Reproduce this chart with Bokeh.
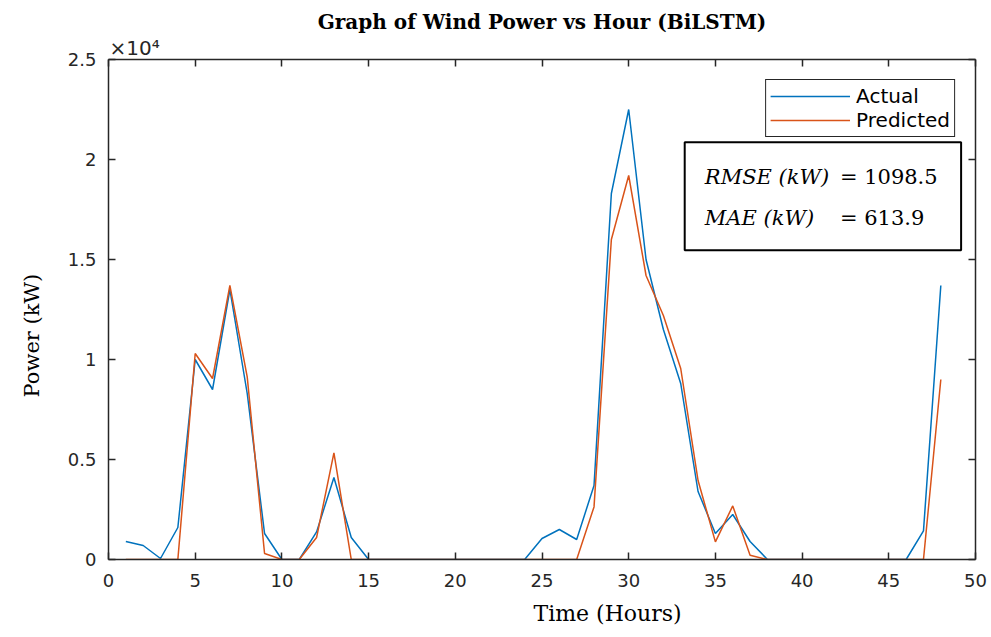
from bokeh.plotting import figure
from bokeh.models import (LinearAxis, FixedTicker, Label, BoxAnnotation, Legend,
                          LegendItem, Range1d, ColumnDataSource, Title)
from bokeh.embed import file_html
from bokeh.resources import INLINE

# ---------------- data ----------------
hours = list(range(1, 49))
actual = [900, 700, 50, 1600, 10000, 8500, 13500, 8300, 1300, 0,
          0, 1380, 4100, 1100, 0, 0, 0, 0, 0, 0,
          0, 0, 0, 0, 1050, 1500, 1000, 3700, 18300, 22500,
          15000, 11500, 8800, 3400, 1300, 2250, 900, 0, 0, 0,
          0, 0, 0, 0, 0, 0, 1430, 13700]
predicted = [0, 0, 0, 0, 10300, 9050, 13700, 9130, 300, 0,
             0, 1100, 5330, 0, 0, 0, 0, 0, 0, 0,
             0, 0, 0, 0, 0, 0, 0, 2630, 16000, 19200,
             14200, 12200, 9550, 3950, 880, 2680, 215, 0, 0, 0,
             0, 0, 0, 0, 0, 0, 0, 9000]

x_ticks = [0, 5, 10, 15, 20, 25, 30, 35, 40, 45, 50]
y_ticks = [0, 5000, 10000, 15000, 20000, 25000]
y_tick_labels = ["0", "0.5", "1", "1.5", "2", "2.5"]

title_text = "Graph of Wind Power vs Hour (BiLSTM)"
x_label = "Time (Hours)"
y_label = "Power (kW)"
exponent_text = "\u00d710\u2074"
series_names = ["Actual", "Predicted"]
rmse_text = ["RMSE (kW)", "= 1098.5"]
mae_text = ["MAE (kW)", "= 613.9"]

AX = "#262626"
BLUE = "#0072BD"
ORANGE = "#D95319"

src = ColumnDataSource(dict(h=hours, a=actual, p=predicted))

p = figure(frame_width=867, frame_height=500,
           min_border_left=107, min_border_right=17,
           min_border_top=59, min_border_bottom=78,
           x_range=Range1d(0, 50), y_range=Range1d(0, 25000),
           output_backend="svg", toolbar_location=None,
           x_axis_location=None, y_axis_location=None,
           background_fill_color="white", border_fill_color="white")
p.outline_line_color = None
p.xgrid.visible = False
p.ygrid.visible = False

p.title.text = title_text
p.title.align = "center"
p.title.text_font = "DejaVu Serif"
p.title.text_font_style = "bold"
p.title.text_font_size = "20px"
p.title.text_color = "black"
p.title.standoff = 0

def style_axis(ax):
    ax.axis_line_color = AX
    ax.axis_line_width = 1.5
    ax.major_tick_line_color = AX
    ax.major_tick_line_width = 1.5
    ax.major_tick_in = 7
    ax.major_tick_out = 0
    ax.minor_tick_line_color = None
    ax.major_label_text_color = AX
    ax.major_label_text_font = "DejaVu Sans"
    ax.major_label_text_font_size = "18px"
    ax.major_label_standoff = 12

xb = LinearAxis(ticker=FixedTicker(ticks=x_ticks))
style_axis(xb)
xb.major_label_standoff = 14
p.add_layout(xb, "below")
xt = LinearAxis(ticker=FixedTicker(ticks=x_ticks))
style_axis(xt)
xt.major_label_overrides = {t: "" for t in x_ticks}
xt.major_label_standoff = 0
xt.major_label_text_font_size = "1px"
p.add_layout(xt, "above")

yl = LinearAxis(ticker=FixedTicker(ticks=y_ticks))
style_axis(yl)
yl.major_label_overrides = {t: l for t, l in zip(y_ticks, y_tick_labels)}
p.add_layout(yl, "left")
yr = LinearAxis(ticker=FixedTicker(ticks=y_ticks))
style_axis(yr)
yr.major_label_overrides = {t: "" for t in y_ticks}
yr.major_label_standoff = 0
yr.major_label_text_font_size = "1px"
p.add_layout(yr, "right")

# exponent marker above the y axis
p.add_layout(Title(text=exponent_text, align="left", offset=1, standoff=0,
                   text_font="DejaVu Sans", text_font_size="20px",
                   text_font_style="normal", text_color=AX), "above")
# axis labels
p.add_layout(Title(text=x_label, align="left", offset=425, standoff=19,
                   text_font="DejaVu Serif", text_font_size="22px",
                   text_font_style="normal", text_color="black"), "below")
p.add_layout(Title(text=y_label, align="left", offset=162, standoff=38,
                   vertical_align="top",
                   text_font="DejaVu Serif", text_font_size="21px",
                   text_font_style="normal", text_color="black"), "left")

r1 = p.line("h", "a", source=src, line_color=BLUE, line_width=1.5)
r2 = p.line("h", "p", source=src, line_color=ORANGE, line_width=1.5)

leg = Legend(items=[LegendItem(label=series_names[0], renderers=[r1]),
                    LegendItem(label=series_names[1], renderers=[r2])],
             location="top_right", margin=20, padding=4, spacing=0,
             glyph_width=80, glyph_height=22, label_height=22, label_standoff=6,
             label_text_font="DejaVu Sans", label_text_font_size="20px",
             label_text_color="black", border_line_color=AX, border_line_width=1,
             border_line_alpha=1,
             background_fill_color="white", background_fill_alpha=1)
p.add_layout(leg)

# statistics box
p.add_layout(BoxAnnotation(left=33.23, right=49.17, bottom=15465, top=20865,
                           fill_color="white", fill_alpha=1,
                           line_color="black", line_width=2, line_alpha=1))
for txt, yy in ((rmse_text, 19115), (mae_text, 17065)):
    p.add_layout(Label(x=34.39, y=yy, text=txt[0], text_font="DejaVu Serif",
                       text_font_style="italic", text_font_size="21px",
                       text_color="black", text_baseline="alphabetic"))
    p.add_layout(Label(x=42.18, y=yy, text=txt[1], text_font="DejaVu Serif",
                       text_font_size="21px", text_color="black",
                       text_baseline="alphabetic"))

open("out.html", "w").write(file_html(p, INLINE))
